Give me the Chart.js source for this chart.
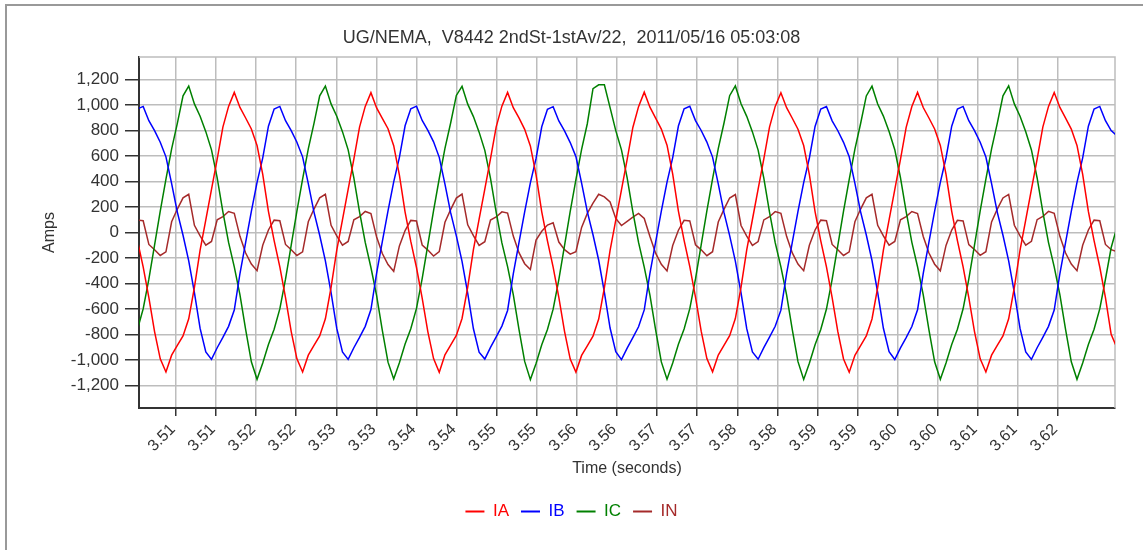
<!DOCTYPE html>
<html>
<head>
<meta charset="utf-8">
<script src="https://cdn.jsdelivr.net/npm/chart.js@4.4.0/dist/chart.umd.min.js"></script>
<style>
  html, body { margin: 0; padding: 0; background: #fff; }
  #wrap { width: 1143px; height: 550px; }
</style>
</head>
<body>
<div id="wrap"><canvas id="myChart" width="1143" height="550"></canvas></div>
<script>
// sample times (seconds)
const times = [
  3.50271, 3.50342, 3.50413, 3.50484, 3.50555, 3.50626, 3.50697, 3.50768, 3.50839, 3.50910,
  3.50981, 3.51052, 3.51123, 3.51194, 3.51265, 3.51336, 3.51407, 3.51478, 3.51549, 3.51620,
  3.51691, 3.51762, 3.51833, 3.51904, 3.51975, 3.52046, 3.52117, 3.52188, 3.52259, 3.52330,
  3.52401, 3.52472, 3.52543, 3.52614, 3.52685, 3.52756, 3.52827, 3.52898, 3.52969, 3.53040,
  3.53111, 3.53182, 3.53253, 3.53324, 3.53395, 3.53466, 3.53537, 3.53608, 3.53679, 3.53750,
  3.53821, 3.53892, 3.53963, 3.54034, 3.54105, 3.54176, 3.54247, 3.54318, 3.54389, 3.54460,
  3.54531, 3.54602, 3.54673, 3.54744, 3.54815, 3.54886, 3.54957, 3.55028, 3.55099, 3.55170,
  3.55241, 3.55312, 3.55383, 3.55454, 3.55525, 3.55596, 3.55667, 3.55738, 3.55809, 3.55880,
  3.55951, 3.56022, 3.56093, 3.56164, 3.56235, 3.56306, 3.56377, 3.56448, 3.56519, 3.56590,
  3.56661, 3.56732, 3.56803, 3.56874, 3.56945, 3.57016, 3.57087, 3.57158, 3.57229, 3.57300,
  3.57371, 3.57442, 3.57513, 3.57584, 3.57655, 3.57726, 3.57797, 3.57868, 3.57939, 3.58010,
  3.58081, 3.58152, 3.58223, 3.58294, 3.58365, 3.58436, 3.58507, 3.58578, 3.58649, 3.58720,
  3.58791, 3.58862, 3.58933, 3.59004, 3.59075, 3.59146, 3.59217, 3.59288, 3.59359, 3.59430,
  3.59501, 3.59572, 3.59643, 3.59714, 3.59785, 3.59856, 3.59927, 3.59998, 3.60069, 3.60140,
  3.60211, 3.60282, 3.60353, 3.60424, 3.60495, 3.60566, 3.60637, 3.60708, 3.60779, 3.60850,
  3.60921, 3.60992, 3.61063, 3.61134, 3.61205, 3.61276, 3.61347, 3.61418, 3.61489, 3.61560,
  3.61631, 3.61702, 3.61773, 3.61844, 3.61915, 3.61986, 3.62057, 3.62128, 3.62199, 3.62270,
  3.62341, 3.62412, 3.62483
];

// phase currents and neutral (amps), one line per cycle
const IA = [
  -64, -270, -512, -778, -992, -1095, -963, -887, -812, -678, -430, -138, 100, 338, 576, 827, 990,
  1100, 982, 899, 813, 684, 456, 166, -64, -270, -512, -778, -992, -1095, -963, -887, -812, -678, -430, -138, 100, 338, 576, 827, 990,
  1098, 978, 896, 815, 682, 450, 160, -70, -275, -515, -780, -990, -1098, -960, -885, -808, -675, -428, -135, 105, 340, 580, 830, 992,
  1100, 980, 900, 810, 680, 452, 162, -66, -272, -510, -776, -994, -1096, -965, -890, -814, -680, -432, -140, 98, 335, 574, 825, 988,
  1102, 984, 898, 812, 686, 458, 168, -62, -268, -508, -775, -990, -1094, -962, -886, -810, -676, -428, -136, 102, 340, 578, 828, 990,
  1098, 980, 897, 811, 683, 455, 164, -65, -270, -512, -779, -993, -1097, -964, -888, -812, -679, -431, -139, 100, 337, 575, 826, 989,
  1100, 981, 899, 813, 684, 456, 166, -64, -270, -512, -778, -992, -1095, -963, -887, -812, -678, -430, -138, 100, 338, 576, 827, 990,
  1099, 982, 898, 812, 684, 456, 165, -64, -271, -512, -800, -905
];
const IB = [
  970, 990, 878, 800, 709, 594, 384, 160, -22, -222, -473, -753, -937, -996, -905, -824, -737,
  -609, -322, -77, 166, 393, 586, 835, 970, 990, 878, 800, 709, 594, 384, 160, -22, -222, -473, -753, -937, -996, -905, -824, -737,
  -605, -318, -72, 170, 398, 590, 838, 972, 992, 880, 802, 712, 590, 380, 156, -26, -226, -478, -756, -940, -994, -902, -820, -735,
  -612, -325, -80, 162, 390, 582, 830, 968, 988, 876, 798, 706, 596, 388, 164, -18, -218, -470, -750, -935, -998, -908, -826, -740,
  -608, -320, -75, 168, 395, 588, 836, 971, 991, 879, 801, 710, 592, 382, 158, -24, -224, -475, -755, -938, -995, -904, -822, -736,
  -610, -323, -78, 165, 392, 585, 833, 969, 989, 877, 799, 708, 595, 386, 162, -20, -220, -472, -752, -936, -997, -906, -825, -738,
  -607, -321, -76, 167, 394, 587, 835, 970, 990, 878, 800, 709, 593, 384, 160, -22, -222, -473, -753, -937, -996, -905, -823, -737,
  -609, -322, -77, 166, 393, 586, 835, 970, 990, 878, 800, 760
];
const IC = [
  -760, -600, -367, -100, 168, 419, 656, 857, 1073, 1150, 1010, 913, 792, 649, 429, 162, -78,
  -270, -490, -763, -1015, -1153, -1025, -880, -760, -600, -367, -100, 168, 419, 656, 857, 1073, 1150, 1010, 913, 792, 649, 429, 162, -78,
  -275, -495, -768, -1018, -1150, -1022, -876, -756, -596, -362, -95, 172, 424, 660, 860, 1076, 1148, 1008, 910, 788, 645, 425, 158, -82,
  -268, -488, -760, -1012, -1155, -1028, -882, -762, -602, -370, -104, 165, 416, 652, 854, 1130, 1160, 1160, 980, 800, 649, 429, 162, -78,
  -272, -492, -765, -1016, -1152, -1024, -878, -758, -598, -365, -98, 170, 421, 658, 858, 1074, 1151, 1011, 912, 790, 647, 427, 160, -80,
  -270, -490, -762, -1014, -1154, -1026, -881, -761, -601, -368, -101, 167, 418, 655, 856, 1072, 1149, 1009, 914, 793, 650, 430, 163, -77,
  -269, -489, -764, -1015, -1153, -1025, -879, -759, -599, -366, -99, 169, 420, 657, 857, 1073, 1152, 1010, 913, 791, 648, 428, 161, -79,
  -270, -490, -763, -1015, -1153, -1025, -880, -760, -600, -367, -120, 40
];
const IN = [
  97, 92, -94, -135, -180, -152, 84, 184, 272, 300, 56, -27, -100, -70, 100, 125, 165,
  150, -30, -161, -248, -300, -100, 20, 97, 92, -94, -135, -180, -152, 84, 184, 272, 300, 56, -27, -100, -70, 100, 125, 165,
  148, -35, -165, -252, -305, -105, 15, 95, 90, -98, -138, -185, -150, 80, 180, 270, 302, 60, -25, -102, -72, 98, 122, 162,
  152, -28, -158, -245, -290, -60, 10, 58, 76, -75, -135, -170, -150, 40, 150, 230, 300, 280, 240, 110, 55, 88, 120, 150,
  110, -32, -162, -250, -302, -102, 18, 96, 91, -96, -136, -182, -151, 82, 182, 271, 298, 55, -28, -101, -71, 99, 124, 164,
  150, -30, -160, -248, -300, -100, 20, 97, 92, -94, -135, -180, -152, 84, 184, 272, 300, 56, -27, -100, -70, 100, 125, 165,
  149, -31, -161, -249, -301, -101, 19, 96, 91, -95, -134, -179, -151, 83, 183, 271, 299, 57, -26, -99, -69, 101, 126, 166,
  150, -30, -161, -248, -300, -100, 20, 97, 92, -94, -135, -150
];

const tickTimes = [
  3.5075, 3.5125, 3.5175, 3.5225, 3.5275, 3.5325, 3.5375, 3.5425, 3.5475, 3.5525, 3.5575, 3.5625,
  3.5675, 3.5725, 3.5775, 3.5825, 3.5875, 3.5925, 3.5975, 3.6025, 3.6075, 3.6125, 3.6175
];
const tickLabels = [
  "3.51", "3.51", "3.52", "3.52", "3.53", "3.53", "3.54", "3.54", "3.55", "3.55", "3.56", "3.56",
  "3.57", "3.57", "3.58", "3.58", "3.59", "3.59", "3.60", "3.60", "3.61", "3.61", "3.62"
];
const ampTicks = [-1200, -1000, -800, -600, -400, -200, 0, 200, 400, 600, 800, 1000, 1200];

const GRID = "#bdbdbd";
const AXIS = "#333";

function series(values) {
  return times.map((t, i) => ({ x: t, y: values[i] }));
}

const framePlugin = {
  id: "frame",
  beforeDraw(chart) {
    const c = chart.ctx;
    c.save();
    c.fillStyle = "#fff";
    c.fillRect(0, 0, chart.width, chart.height);
    c.strokeStyle = "#999";
    c.lineWidth = 2;
    c.beginPath();
    c.moveTo(6, chart.height + 5);
    c.lineTo(6, 5);
    c.lineTo(chart.width + 5, 5);
    c.stroke();
    c.restore();
  },
  beforeDatasetsDraw(chart) {
    const { top, right, bottom, left } = chart.chartArea;
    const c = chart.ctx;
    c.save();
    c.strokeStyle = GRID;
    c.lineWidth = 1.5;
    c.beginPath();
    c.moveTo(left, top);
    c.lineTo(right, top);
    c.lineTo(right, bottom);
    c.stroke();
    c.restore();
  },
};

Chart.defaults.font.family = '"Liberation Sans", Arial, Helvetica, sans-serif';
Chart.defaults.color = AXIS;

const ctx = document.getElementById("myChart");
const chart = new Chart(ctx, {
  type: "line",
  data: {
    datasets: [
      { label: "IA", data: series(IA), borderColor: "#ff0000", backgroundColor: "#ff0000" },
      { label: "IB", data: series(IB), borderColor: "#0000ff", backgroundColor: "#0000ff" },
      { label: "IC", data: series(IC), borderColor: "#008000", backgroundColor: "#008000" },
      { label: "IN", data: series(IN), borderColor: "#a52a2a", backgroundColor: "#a52a2a" },
    ],
  },
  options: {
    responsive: false,
    animation: false,
    elements: {
      point: { radius: 0 },
      line: { borderWidth: 1.5, tension: 0 },
    },
    layout: { padding: { left: 0, right: 0, top: 0, bottom: 20 } },
    plugins: {
      title: {
        display: true,
        text: "UG/NEMA,  V8442 2ndSt-1stAv/22,  2011/05/16 05:03:08",
        color: AXIS,
        font: { size: 18, weight: "normal" },
        padding: { top: 27, bottom: 8.4 },
      },
      legend: {
        position: "bottom",
        labels: {
          boxWidth: 19,
          boxHeight: 2,
          padding: 12,
          font: { size: 17 },
          generateLabels(chart) {
            return chart.data.datasets.map((ds, i) => ({
              text: ds.label,
              fillStyle: ds.borderColor,
              strokeStyle: ds.borderColor,
              fontColor: ds.borderColor,
              lineWidth: 0,
              hidden: false,
              datasetIndex: i,
            }));
          },
        },
      },
      tooltip: { enabled: false },
    },
    scales: {
      x: {
        type: "linear",
        min: 3.5029,
        max: 3.6246,
        afterBuildTicks(scale) {
          scale.ticks = tickTimes.map((v) => ({ value: v }));
        },
        afterFit(scale) {
          scale.height = 83;
        },
        ticks: {
          autoSkip: false,
          minRotation: 45,
          maxRotation: 45,
          padding: 4,
          labelOffset: -3,
          color: AXIS,
          font: { size: 16 },
          callback: (value, index) => tickLabels[index],
        },
        grid: { color: GRID, lineWidth: 1.5, tickColor: AXIS, tickLength: 8, tickWidth: 1.5 },
        border: { color: AXIS, width: 2 },
        title: {
          display: true,
          text: "Time (seconds)",
          color: AXIS,
          font: { size: 16 },
          padding: { top: 0, bottom: 13 },
        },
      },
      y: {
        type: "linear",
        min: -1378,
        max: 1378,
        afterBuildTicks(scale) {
          scale.ticks = ampTicks.map((v) => ({ value: v }));
        },
        afterFit(scale) {
          scale.width = 139;
        },
        ticks: {
          padding: 6,
          color: AXIS,
          font: { size: 17 },
          callback: (value) => value.toLocaleString("en-US"),
        },
        grid: { color: GRID, lineWidth: 1.5, tickColor: AXIS, tickLength: 14, tickWidth: 1.5 },
        border: { color: AXIS, width: 2 },
        title: {
          display: true,
          text: "Amps",
          color: AXIS,
          font: { size: 16 },
          padding: { top: 40, bottom: 0 },
        },
      },
      yRight: {
        type: "linear",
        position: "right",
        display: true,
        grid: { display: false },
        border: { display: false },
        ticks: { display: false },
        afterFit(scale) {
          scale.width = 28;
        },
      },
    },
  },
  plugins: [framePlugin],
});
</script>
</body>
</html>
